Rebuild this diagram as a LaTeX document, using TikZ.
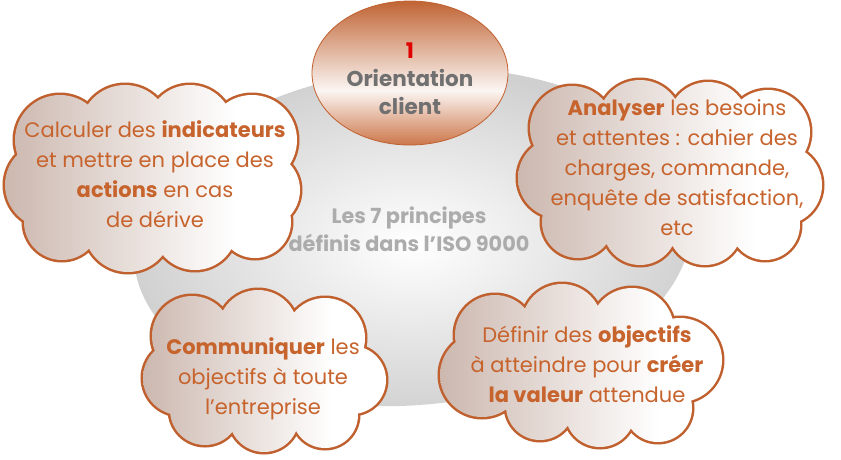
\documentclass[tikz,border=0pt]{standalone}
\usepackage{fontspec}
\setmainfont{Poppins}
\usetikzlibrary{shapes.geometric}
\definecolor{txtc}{RGB}{199,99,44}
\definecolor{edgec}{RGB}{192,96,46}
\definecolor{cloudL}{RGB}{204,184,175}
\definecolor{greyE}{RGB}{208,208,208}
\definecolor{centc}{RGB}{172,172,172}
\definecolor{topc}{RGB}{192,100,52}
\definecolor{botc}{RGB}{204,118,74}
\definecolor{oricol}{RGB}{112,112,112}
\definecolor{onec}{RGB}{225,0,0}
\pgfdeclareverticalshading{topsh}{100bp}{color(0bp)=(botc); color(25bp)=(botc); color(44bp)=(white!94!topc); color(75bp)=(topc); color(100bp)=(topc)}
\pgfdeclarehorizontalshading{cloudsh}{100bp}{color(0bp)=(cloudL); color(25bp)=(cloudL); color(64bp)=(white); color(100bp)=(white)}
\tikzset{
  cloudline/.style={draw=edgec, line width=5pt},
  cloudfill/.style={shading=cloudsh},
  cloudtxt/.style={align=center, text=txtc, font=\fontsize{21}{30}\selectfont, inner sep=0pt},
}
\def\cloudA{(60,140) circle[radius=45] (125,130) circle[radius=45] (190,128) circle[radius=43]
  (252,140) circle[radius=45] (262,190) circle[radius=38] (255,222) circle[radius=36]
  (195,228) circle[radius=42] (128,228) circle[radius=44] (62,222) circle[radius=38]
  (48,185) circle[radius=43]}
\def\cloudB{(572,128) circle[radius=42] (640,122) circle[radius=42] (708,122) circle[radius=40]
  (768,132) circle[radius=42] (782,185) circle[radius=40] (765,225) circle[radius=35]
  (705,228) circle[radius=37] (640,228) circle[radius=37] (578,222) circle[radius=36]
  (558,178) circle[radius=40]}
\def\cloudC{(192,336) circle[radius=40] (258,330) circle[radius=40] (325,338) circle[radius=40]
  (352,380) circle[radius=34] (325,415) circle[radius=33] (264,417) circle[radius=35]
  (205,410) circle[radius=35] (180,378) circle[radius=37]}
\def\cloudD{(495,335) circle[radius=40] (562,324) circle[radius=40] (632,330) circle[radius=42]
  (680,360) circle[radius=42] (658,408) circle[radius=34] (600,412) circle[radius=35]
  (540,406) circle[radius=34] (482,375) circle[radius=42]}
\begin{document}
\begin{tikzpicture}[x=1pt,y=-1pt]
\useasboundingbox (0,0) rectangle (841,459);
% grey background ellipse
\shade[inner color=white, outer color=greyE, rotate around={5:(413,237)}]
  (413,237) ellipse [x radius=280, y radius=168];
% top ellipse
\node[ellipse, draw=edgec, line width=0.8pt, minimum width=196pt, minimum height=144pt,
  shading=topsh] (top) at (410,73) {};
\node[align=center, font=\bfseries\fontsize{21.5}{28}\selectfont, inner sep=0pt] (toptxt) at (410,79)
  {\textcolor{onec}{1}\\\textcolor{oricol}{Orientation}\\\textcolor{oricol}{client}};
% center text
\node[align=center, text=centc, font=\bfseries\fontsize{20.8}{28}\selectfont, inner sep=0pt] (ctr) at (409,229)
  {Les 7 principes\\définis dans l’ISO 9000};
% clouds
\draw[cloudline] \cloudA;
\shade[cloudfill] \cloudA (155,180) ellipse[x radius=115, y radius=55];
\draw[cloudline] \cloudB;
\shade[cloudfill] \cloudB (670,175) ellipse[x radius=125, y radius=55];
\draw[cloudline] \cloudC;
\shade[cloudfill] \cloudC (264,375) ellipse[x radius=95, y radius=45];
\draw[cloudline] \cloudD;
\shade[cloudfill] \cloudD (580,368) ellipse[x radius=105, y radius=45];
\node[cloudtxt] (t1) at (155,174) {Calculer des \textbf{indicateurs}\\et mettre en place des\\\textbf{actions} en cas\\de dérive};
\node[cloudtxt] (t2) at (677,168) {\textbf{Analyser} les besoins\\et attentes : cahier des\\charges, commande,\\enquête de satisfaction,\\etc};
\node[cloudtxt] (t3) at (263,379) {\textbf{Communiquer} les\\objectifs à toute\\l’entreprise};
\node[cloudtxt] (t4) at (587,364) {Définir des \textbf{objectifs}\\à atteindre pour \textbf{créer}\\\textbf{la valeur} attendue};
\end{tikzpicture}
\end{document}
